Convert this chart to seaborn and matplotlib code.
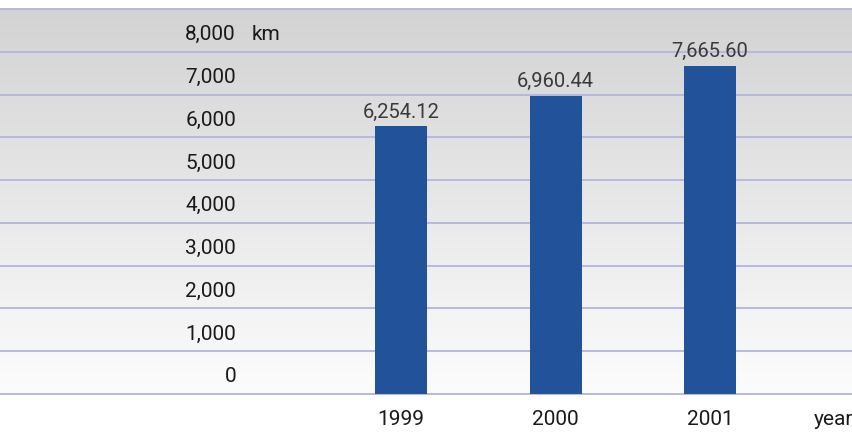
import numpy as np
import pandas as pd
import matplotlib
matplotlib.use("Agg")
import matplotlib.pyplot as plt
import matplotlib.transforms as mtransforms
from matplotlib.colors import LinearSegmentedColormap
import seaborn as sns

# Network length by year
years = ["1999", "2000", "2001"]
lengths = [6254.12, 6960.44, 7665.60]
y_ticks = [0, 1000, 2000, 3000, 4000, 5000, 6000, 7000, 8000]
y_tick_labels = ["0", "1,000", "2,000", "3,000", "4,000", "5,000", "6,000", "7,000", "8,000"]
value_labels = ["6,254.12", "6,960.44", "7,665.60"]

sns.set_theme(style="white")
FONT = ["Roboto", "Liberation Sans", "DejaVu Sans"]
plt.rcParams["font.family"] = FONT

df = pd.DataFrame({"year": years, "length": lengths})

W, H = 853, 435
fig = plt.figure(figsize=(W / 100, H / 100), dpi=100)
fig.patch.set_facecolor("white")
top_px, bottom_px = 10, 395
ax = fig.add_axes([0, (H - bottom_px) / H, 1, (bottom_px - top_px) / H])

y_max = 9000
spacing = 154.5
x0 = 401
xlim = (-x0 / spacing, (W - x0) / spacing)

# vertical grey-to-white gradient behind the bars
grad = np.linspace(0, 1, 256).reshape(-1, 1)
cmap = LinearSegmentedColormap.from_list("bg", ["#d3d3d3", "#fcfcfc"])
ax.imshow(grad, aspect="auto", cmap=cmap, extent=(xlim[0], xlim[1], 0, y_max),
          origin="upper", zorder=0)

for v in range(0, y_max + 1, 1000):
    ax.axhline(v, color="#b6b9dc", lw=1.4, zorder=1, clip_on=False)

sns.barplot(data=df, x="year", y="length", order=years, color="#22529a",
            width=52 / spacing, saturation=1, linewidth=0, ax=ax, zorder=2)
ax.set_xlim(*xlim)
ax.set_ylim(0, y_max)

for s in ax.spines.values():
    s.set_visible(False)
ax.set_xticks([])
ax.set_yticks([])
ax.set_xlabel("")
ax.set_ylabel("")

# y labels sitting just above each gridline
trans_y = mtransforms.blended_transform_factory(
    mtransforms.IdentityTransform(), ax.transData)
px_per_unit = (bottom_px - top_px) / y_max
for v, lab in zip(y_ticks, y_tick_labels):
    ax.text(236, v + 18 / px_per_unit, lab, transform=trans_y, ha="right",
            va="center", fontsize=15, color="#1a1a1a")
ax.text(252, 8000 + 18 / px_per_unit, "km", transform=trans_y, ha="left",
        va="center", fontsize=15, color="#1a1a1a")

# value labels over bars
for i, (v, lab) in enumerate(zip(lengths, value_labels)):
    ax.text(i, v + 6 / px_per_unit, lab, ha="center", va="bottom",
            fontsize=14.5, color="#3a3a3a")

# year labels under the plot
trans_x = mtransforms.blended_transform_factory(
    ax.transData, mtransforms.IdentityTransform())
for i, yr in enumerate(years):
    ax.text(i, H - 420, yr, transform=trans_x, ha="center", va="center",
            fontsize=15, color="#1a1a1a")
fig.text(833 / W, 1 - 420 / H, "year", ha="center", va="center",
         fontsize=15, color="#1a1a1a")

fig.savefig("out.png", dpi=100, facecolor="white")
